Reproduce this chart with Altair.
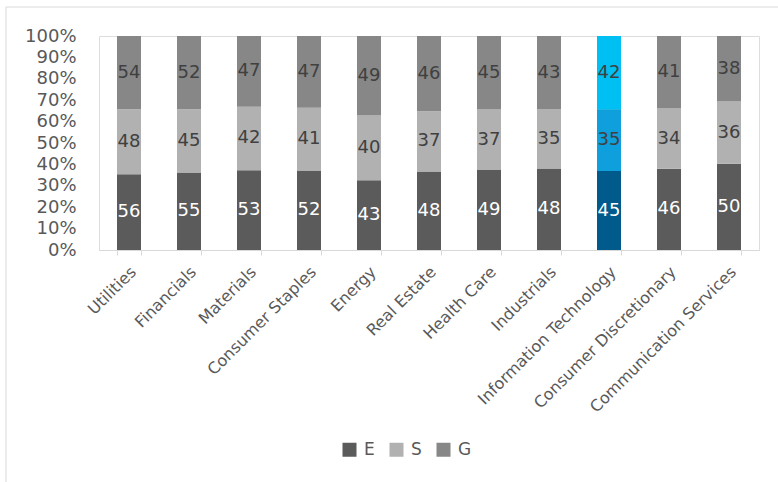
import altair as alt
import pandas as pd

categories = ["Utilities", "Financials", "Materials", "Consumer Staples", "Energy",
              "Real Estate", "Health Care", "Industrials", "Information Technology",
              "Consumer Discretionary", "Communication Services"]
series = ["E", "S", "G"]
E_vals = [56, 55, 53, 52, 43, 48, 49, 48, 45, 46, 50]
S_vals = [48, 45, 42, 41, 40, 37, 37, 35, 35, 34, 36]
G_vals = [54, 52, 47, 47, 49, 46, 45, 43, 42, 41, 38]
y_ticks = [0, 0.1, 0.2, 0.3, 0.4, 0.5, 0.6, 0.7, 0.8, 0.9, 1.0]
highlight = "Information Technology"

rows = []
for i, c in enumerate(categories):
    for k, (s, vals) in enumerate(zip(series, [E_vals, S_vals, G_vals])):
        rows.append({"category": c, "series": s, "value": vals[i], "ord": k})
df = pd.DataFrame(rows)

FONT = "DejaVu Sans"
GRAY_TEXT = "#595959"

base = alt.Chart(df).transform_stack(
    stack="value", groupby=["category"], sort=[alt.SortField("ord")],
    as_=["y0", "y1"], offset="normalize"
).transform_calculate(mid="(datum.y0 + datum.y1) / 2")

x_scale = alt.Scale(paddingInner=0.6, paddingOuter=0.3)
y_scale = alt.Scale(domain=[0, 1])
x_enc = alt.X("category:N", sort=categories, title=None, scale=x_scale)
y_axis = alt.Axis(format=".0%", values=y_ticks, grid=False, domain=False, ticks=False,
                  labelOverlap=False)

bars = base.mark_bar().encode(
    x=x_enc,
    y=alt.Y("y0:Q", scale=y_scale, title=None, axis=y_axis),
    y2="y1:Q",
    color=alt.Color("series:N", scale=alt.Scale(domain=series,
                    range=["#5b5b5b", "#b1b1b1", "#878787"]),
                    legend=alt.Legend(title=None, orient="none", direction="horizontal",
                                      legendX=242, legendY=405, symbolType="square",
                                      symbolSize=196, symbolStrokeWidth=0,
                                      labelFontSize=17, labelFont=FONT,
                                      labelColor=GRAY_TEXT, labelOffset=6,
                                      columnPadding=13)),
)

hl = base.transform_filter(alt.datum.category == highlight).mark_bar().encode(
    x=x_enc,
    y=alt.Y("y0:Q", scale=y_scale, title=None, axis=y_axis),
    y2="y1:Q",
    color=alt.Color("series:N", scale=alt.Scale(domain=series,
                    range=["#005a8c", "#0e9fdc", "#00bff2"]), legend=None),
)

labels = base.mark_text(fontSize=18, font=FONT).encode(
    x=x_enc,
    y=alt.Y("mid:Q", scale=y_scale, title=None, axis=y_axis),
    text="value:Q",
    color=alt.condition(alt.datum.series == "E", alt.value("white"), alt.value("#404040")),
)

frame_df = pd.DataFrame({"a": [0]})
top_line = alt.Chart(frame_df).mark_rule(color="#d9d9d9", strokeWidth=1).encode(
    x=alt.value(-93), x2=alt.value(679), y=alt.value(-29))
left_line = alt.Chart(frame_df).mark_rule(color="#d9d9d9", strokeWidth=1).encode(
    x=alt.value(-93), y=alt.value(-29), y2=alt.value(446))

chart = alt.layer(bars, hl, labels, top_line, left_line).resolve_scale(
    color="independent"
).properties(
    width=660, height=214,
    autosize=alt.AutoSizeParams(type="none"),
    padding={"left": 99, "top": 36, "right": 19, "bottom": 232},
).configure_view(strokeOpacity=0).configure(background="white").configure_axisY(
    labelFontSize=18, labelFont=FONT, labelColor=GRAY_TEXT, labelPadding=23,
    labelOverlap=False, grid=False, domain=False, ticks=False
).configure_axisX(
    labelAngle=-45, labelFontSize=16, labelFont=FONT, labelColor=GRAY_TEXT,
    domainColor="#d9d9d9", tickColor="#d9d9d9", tickBand="extent", tickSize=5,
    labelPadding=14, labelOffset=4, labelAlign="right", labelBaseline="middle",
    labelLimit=400, labelOverlap=False
)

chart.save("out.html", embed_options={"renderer": "svg", "actions": False})
